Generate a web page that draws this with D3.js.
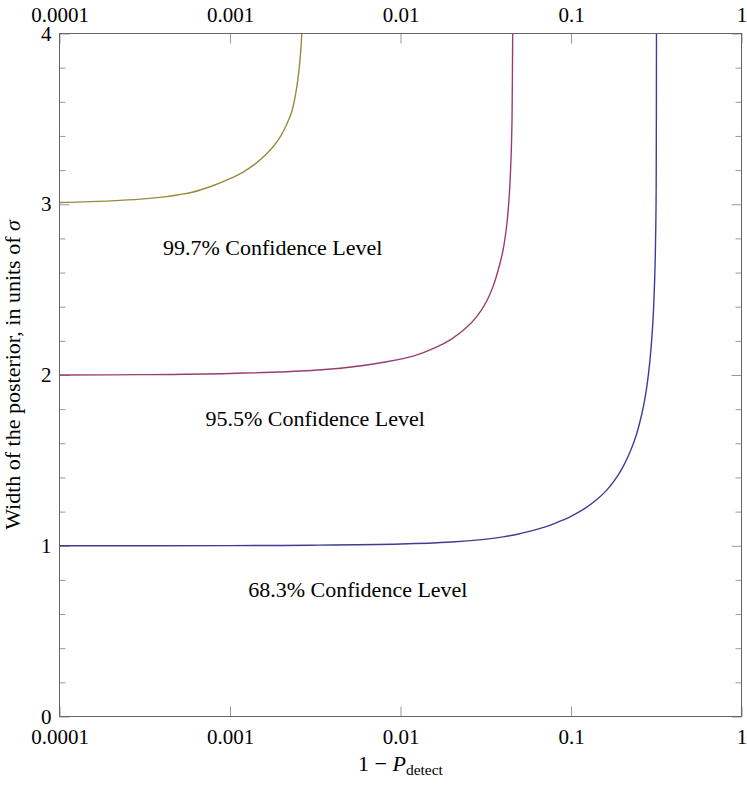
<!DOCTYPE html>
<html>
<head>
<meta charset="utf-8">
<script src="https://cdn.jsdelivr.net/npm/d3@7"></script>
<style>
  html, body { margin: 0; padding: 0; background: #fff; }
  svg text { font-family: "Liberation Serif", "Times New Roman", serif; fill: #000; }
</style>
</head>
<body>
<div id="chart"></div>
<script>
// Tick values
const xTicks = [0.0001, 0.001, 0.01, 0.1, 1];
const xTickLabels = ["0.0001", "0.001", "0.01", "0.1", "1"];
const yTicks = [0, 1, 2, 3, 4];

// 68.3% curve (blue)
const x68 = [0.0001, 0.001, 0.003, 0.01, 0.02, 0.03, 0.04, 0.05, 0.06, 0.07, 0.08, 0.09, 0.1,
             0.12, 0.14, 0.16, 0.18, 0.2, 0.22, 0.24, 0.26, 0.27, 0.28, 0.29, 0.30, 0.305,
             0.31, 0.313, 0.315, 0.316, 0.3172];
const w68 = [1.000, 1.001, 1.003, 1.010, 1.022, 1.036, 1.052, 1.070, 1.090, 1.109, 1.130, 1.151, 1.172,
             1.217, 1.266, 1.320, 1.383, 1.455, 1.540, 1.640, 1.770, 1.850, 1.950, 2.080, 2.260, 2.390,
             2.580, 2.760, 2.950, 3.120, 4.000];

// 95.5% curve (magenta)
const x955 = [0.0001, 0.0003, 0.001, 0.003, 0.005, 0.008, 0.012, 0.016, 0.02, 0.024, 0.028,
              0.032, 0.035, 0.038, 0.040, 0.042, 0.0435, 0.0445, 0.045, 0.0452, 0.0455];
const w955 = [2.000, 2.002, 2.009, 2.026, 2.045, 2.075, 2.112, 2.160, 2.212, 2.272, 2.342,
              2.432, 2.522, 2.640, 2.735, 2.880, 3.060, 3.270, 3.450, 3.600, 4.000];

// 99.7% curve (olive)
const x997 = [0.0001, 0.0002, 0.0003, 0.0004, 0.0005, 0.0006, 0.0008, 0.001, 0.0012, 0.0014,
              0.0016, 0.0018, 0.002, 0.0022, 0.0023, 0.0024, 0.0025, 0.0026, 0.00265];
const w997 = [3.010, 3.020, 3.030, 3.042, 3.056, 3.070, 3.110, 3.150, 3.190, 3.235,
              3.285, 3.340, 3.405, 3.490, 3.540, 3.620, 3.730, 3.900, 4.050];

// Annotations
const labelText = ["68.3% Confidence Level", "95.5% Confidence Level", "99.7% Confidence Level"];
const labelX = [0.00562, 0.00316, 0.00178];
const labelY = [0.75, 1.75, 2.75];

const colors = ["#3d3d99", "#993d71", "#998b3d"];

const W = 747, H = 795;
const plot = {left: 59.5, right: 741.5, top: 33.5, bottom: 716.5};

const svg = d3.select("#chart").append("svg")
    .attr("width", W)
    .attr("height", H);

const x = d3.scaleLog().domain([0.0001, 1]).range([plot.left, plot.right]);
const y = d3.scaleLinear().domain([0, 4]).range([plot.bottom, plot.top]);

const minorY = y.ticks(20).filter(v => !yTicks.includes(v));

// Ticks (inside the frame)
function styleAxis(g) {
    g.select(".domain").remove();
    g.selectAll(".tick line").attr("stroke", "#999").attr("stroke-width", 1);
    g.selectAll(".tick text").style("font-size", "21px");
}

svg.append("g")
    .attr("transform", `translate(0,${plot.bottom})`)
    .call(d3.axisBottom(x).tickValues(xTicks).tickSize(-10).tickPadding(13)
        .tickFormat((d, i) => xTickLabels[i]))
    .call(styleAxis);

svg.append("g")
    .attr("transform", `translate(0,${plot.top})`)
    .call(d3.axisTop(x).tickValues(xTicks).tickSize(-10).tickPadding(11.5)
        .tickFormat((d, i) => xTickLabels[i]))
    .call(styleAxis);

svg.append("g")
    .attr("transform", `translate(${plot.left},0)`)
    .call(d3.axisLeft(y).tickValues(yTicks).tickSize(-10).tickPadding(8).tickFormat(d3.format("d")))
    .call(styleAxis);

svg.append("g")
    .attr("transform", `translate(${plot.left},0)`)
    .call(d3.axisLeft(y).tickValues(minorY).tickSize(-6).tickFormat(""))
    .call(styleAxis);

svg.append("g")
    .attr("transform", `translate(${plot.right},0)`)
    .call(d3.axisRight(y).tickValues(yTicks).tickSize(-10).tickFormat(""))
    .call(styleAxis);

svg.append("g")
    .attr("transform", `translate(${plot.right},0)`)
    .call(d3.axisRight(y).tickValues(minorY).tickSize(-6).tickFormat(""))
    .call(styleAxis);

// Clip for the curves
svg.append("clipPath").attr("id", "plot-clip")
    .append("rect")
    .attr("x", plot.left).attr("y", plot.top)
    .attr("width", plot.right - plot.left).attr("height", plot.bottom - plot.top);

const line = d3.line()
    .x(d => x(d[0]))
    .y(d => y(d[1]))
    .curve(d3.curveCatmullRom.alpha(0.5));

const series = [
    d3.zip(x68, w68),
    d3.zip(x955, w955),
    d3.zip(x997, w997)
];

svg.append("g")
    .attr("clip-path", "url(#plot-clip)")
    .selectAll("path")
    .data(series)
    .enter()
    .append("path")
    .attr("d", line)
    .attr("fill", "none")
    .attr("stroke", (d, i) => colors[i])
    .attr("stroke-width", 1.4);

// Frame
svg.append("rect")
    .attr("x", plot.left).attr("y", plot.top)
    .attr("width", plot.right - plot.left).attr("height", plot.bottom - plot.top)
    .attr("fill", "none")
    .attr("stroke", "#666")
    .attr("stroke-width", 1);

// Confidence level labels
svg.append("g")
    .selectAll("text")
    .data(labelText)
    .enter()
    .append("text")
    .attr("x", (d, i) => x(labelX[i]))
    .attr("y", (d, i) => y(labelY[i]))
    .attr("dy", "0.38em")
    .attr("text-anchor", "middle")
    .style("font-size", "22px")
    .text(d => d);

// Axis labels
const xl = svg.append("text")
    .attr("x", (plot.left + plot.right) / 2)
    .attr("y", 771)
    .attr("text-anchor", "middle")
    .style("font-size", "22px");
xl.append("tspan").text("1 \u2212 ");
xl.append("tspan").style("font-style", "italic").text("P");
xl.append("tspan").attr("dy", 4).style("font-size", "15.5px").text("detect");

const yl = svg.append("text")
    .attr("transform", `translate(20,${(plot.top + plot.bottom) / 2}) rotate(-90)`)
    .attr("text-anchor", "middle")
    .style("font-size", "22px");
yl.append("tspan").text("Width of the posterior, in units of ");
yl.append("tspan").style("font-style", "italic").text("\u03c3");
</script>
</body>
</html>
